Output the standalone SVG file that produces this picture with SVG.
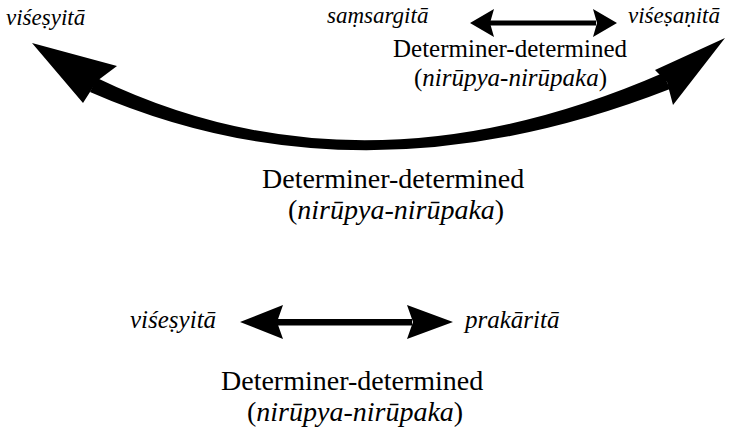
<svg xmlns="http://www.w3.org/2000/svg" width="753" height="430" viewBox="0 0 753 430">
<rect width="753" height="430" fill="#ffffff"/>
<g id="viseshyita-top">
<text x="6" y="25" font-family="Liberation Serif, serif" font-size="23" font-style="italic">viśeṣyitā</text>
</g>
<g id="samsargita">
<text x="327" y="23" font-family="Liberation Serif, serif" font-size="23" font-style="italic">saṃsargitā</text>
</g>
<g id="viseshanita">
<text x="628" y="23" font-family="Liberation Serif, serif" font-size="23" font-style="italic">viśeṣaṇitā</text>
</g>
<g id="label-top">
<text x="393" y="57" font-family="Liberation Serif, serif" font-size="25">Determiner-determined</text>
<text x="414" y="86" font-family="Liberation Serif, serif" font-size="25">(<tspan font-style="italic">nirūpya-nirūpaka</tspan>)</text>
</g>
<g id="label-middle">
<text x="262" y="188" font-family="Liberation Serif, serif" font-size="28">Determiner-determined</text>
<text x="288" y="219" font-family="Liberation Serif, serif" font-size="28">(<tspan font-style="italic">nirūpya-nirūpaka</tspan>)</text>
</g>
<g id="viseshyita-bottom">
<text x="130" y="328" font-family="Liberation Serif, serif" font-size="25" font-style="italic">viśeṣyitā</text>
</g>
<g id="prakarita">
<text x="465" y="328" font-family="Liberation Serif, serif" font-size="25" font-style="italic">prakāritā</text>
</g>
<g id="label-bottom">
<text x="221" y="390" font-family="Liberation Serif, serif" font-size="28">Determiner-determined</text>
<text x="247" y="421" font-family="Liberation Serif, serif" font-size="28">(<tspan font-style="italic">nirūpya-nirūpaka</tspan>)</text>
</g>
<g id="connectors" fill="#000000">
<g id="arc">
<path d="M97,78 Q360,205 663,73 L670,89 Q360,210 90,92 Z"/>
<polygon points="32,43 117,66 97,81 83,103"/>
<polygon points="725,38 673,105 667,82 655,70"/>
</g>
<g id="arrow-top">
<rect x="488" y="20.5" width="108" height="5"/>
<polygon points="470,23 494,9 490,23 494,37"/>
<polygon points="617,23 593,9 597,23 593,37"/>
</g>
<g id="arrow-bottom">
<rect x="276" y="319" width="136" height="6.5"/>
<polygon points="240,322 283,305 277,322 283,339"/>
<polygon points="453,322 407,305 413,322 407,339"/>
</g>
</g>
</svg>
